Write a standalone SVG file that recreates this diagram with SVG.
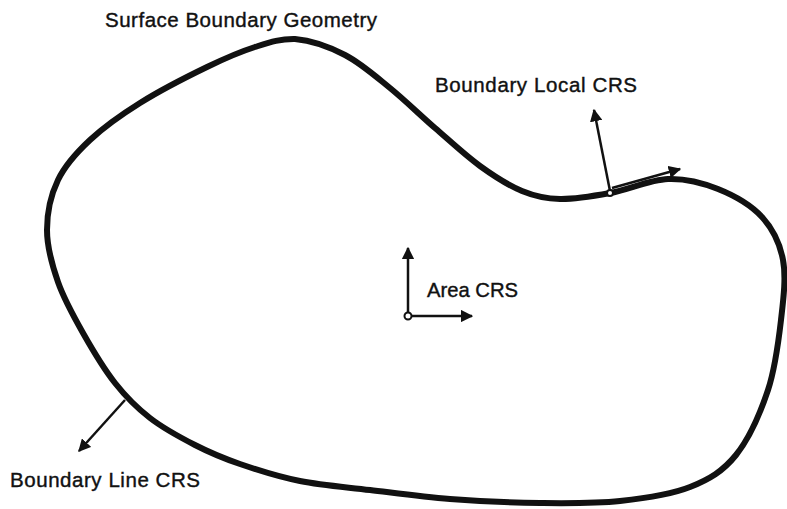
<svg xmlns="http://www.w3.org/2000/svg" width="787" height="509" viewBox="0 0 787 509">
<style>
text { font-family: "Liberation Sans", Arial, sans-serif; font-size: 20.5px; fill: #111; stroke: #111; stroke-width: 0.4; }
.arrow { stroke: #111; stroke-width: 2.5; fill: none; marker-end: url(#ah); }
.origin { fill: #fff; stroke: #111; stroke-width: 2; }
</style>
<defs>
<marker id="ah" viewBox="0 0 10 10" refX="9" refY="5" markerWidth="5" markerHeight="5" orient="auto" markerUnits="strokeWidth">
<path d="M0,0 L10,5 L0,10 z" fill="#111"/>
</marker>
</defs>
<rect width="787" height="509" fill="#fff"/>
<g id="boundary">
<path d="M295,39 C310,40.3 329.2,46.8 345,55 C360.8,63.2 375,75.8 390,88 C405,100.2 420,115 435,128 C450,141 465.5,155.5 480,166 C494.5,176.5 508.7,185.5 522,191 C535.3,196.5 545.3,198.7 560,199 C574.7,199.3 592,196.3 610,193 C628,189.7 650,179.7 668,179 C686,178.3 702.3,182.7 718,189 C733.7,195.3 751.2,205.2 762,217 C772.8,228.8 779.8,242.8 783,260 C786.2,277.2 783.5,298.3 781,320 C778.5,341.7 775.5,367.5 768,390 C760.5,412.5 749,438.8 736,455 C723,471.2 709.3,479.3 690,487 C670.7,494.7 645,498.3 620,501 C595,503.7 568.3,503.3 540,503 C511.7,502.7 478.3,501.2 450,499 C421.7,496.8 395,493 370,490 C345,487 321.7,485.3 300,481 C278.3,476.7 257.5,470 240,464 C222.5,458 210,452.7 195,445 C180,437.3 163.3,428.3 150,418 C136.7,407.7 126.2,397.2 115,383 C103.8,368.8 92.5,349.8 83,333 C73.5,316.2 64,299.2 58,282 C52,264.8 47,247 47,230 C47,213 50.8,195 58,180 C65.2,165 76.3,152.8 90,140 C103.7,127.2 120.5,115.2 140,103 C159.5,90.8 187.8,76.3 207,67 C226.2,57.7 240.3,51.7 255,47 C269.7,42.3 280,38.7 295,39 Z" fill="none" stroke="#111" stroke-width="6"/>
<text x="105" y="27" textLength="272" lengthAdjust="spacing">Surface Boundary Geometry</text>
</g>
<g id="connectors">
<line class="arrow" x1="610" y1="191" x2="594" y2="110"/>
<line class="arrow" x1="612" y1="188" x2="680" y2="169"/>
<line class="arrow" x1="408" y1="314" x2="408" y2="248"/>
<line class="arrow" x1="410" y1="316" x2="472" y2="316"/>
<line class="arrow" x1="125" y1="400" x2="79" y2="451"/>
</g>
<g id="boundary-local-crs">
<circle class="origin" cx="610" cy="193" r="3"/>
<text x="435" y="92" textLength="202" lengthAdjust="spacing">Boundary Local CRS</text>
</g>
<g id="area-crs">
<circle class="origin" cx="408" cy="316" r="3.5"/>
<text x="427" y="297" textLength="91" lengthAdjust="spacingAndGlyphs">Area CRS</text>
</g>
<g id="boundary-line-crs">
<text x="10" y="487" textLength="190" lengthAdjust="spacing">Boundary Line CRS</text>
</g>
</svg>
